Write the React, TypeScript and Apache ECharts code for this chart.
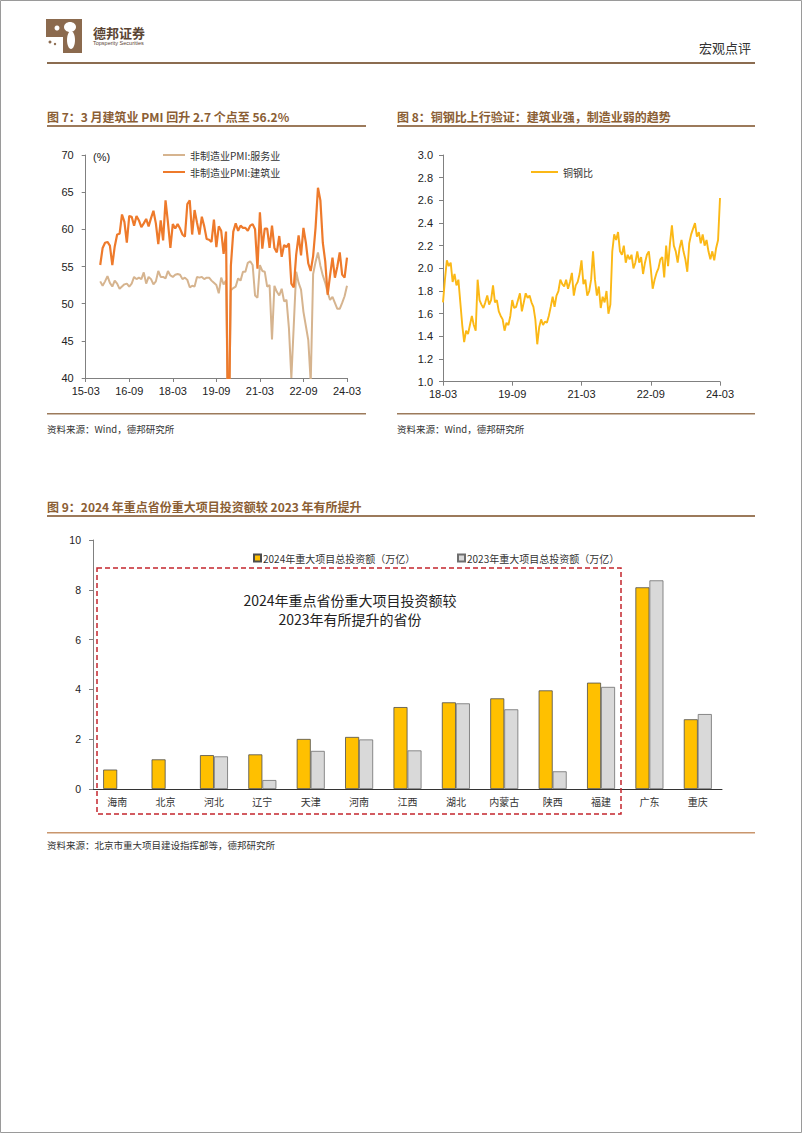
import React, { useEffect, useRef } from "react";
import * as echarts from "echarts";

// ---------- Figure 7: non-manufacturing PMI (monthly) ----------
const PMI_AXIS_START_YEAR = 2015;
const PMI_AXIS_START_MONTH = 3;
const PMI_AXIS_LENGTH = 109; // 2015-03 .. 2024-03
const PMI_DATA_START_INDEX = 6; // data start 2015-09
const PMI_LABEL_INTERVAL = 17; // label every 18 months

const SERVICES_PMI = [
  53.0, 52.4, 53.0, 53.7,
  52.8, 52.3, 53.1, 52.7, 52.0, 52.3, 52.6, 52.7, 52.3, 52.7, 53.6, 53.3,
  53.5, 53.3, 54.2, 52.7, 53.6, 53.3, 52.6, 53.0, 54.4, 53.6, 53.6, 53.4,
  54.4, 53.8, 53.6, 53.9, 54.0, 53.9, 53.3, 53.5, 53.2, 52.2, 52.4, 52.3,
  53.6, 53.5, 53.6, 53.3, 53.5, 53.5, 53.1, 52.8, 52.5, 51.4, 53.5, 52.6,
  53.1, 30.1, 51.8, 52.1, 52.3, 53.4, 53.1, 54.3, 54.3, 55.5, 55.7, 55.2,
  51.1, 50.8, 55.2, 54.4, 54.3, 52.3, 52.5, 45.2, 52.4, 51.6, 51.1, 52.0,
  50.3, 50.5, 46.7, 40.0, 47.1, 54.3, 52.8, 51.9, 48.9, 47.0, 45.1, 39.4,
  54.0, 55.6, 56.9, 55.1, 53.8, 52.8, 51.5, 50.5, 50.9, 50.1, 49.3, 49.3,
  50.1, 51.0, 52.4,
];

const CONSTRUCTION_PMI = [
  55.2, 57.5, 58.2, 58.3,
  57.8, 55.2, 57.7, 59.3, 59.4, 62.0, 61.0, 58.2, 61.8, 61.7, 60.5, 61.8,
  61.2, 60.3, 60.8, 61.4, 60.4, 61.5, 62.5, 60.8, 58.0, 61.2, 58.5, 63.9,
  60.9, 57.5, 60.7, 60.1, 60.7, 60.1, 59.3, 59.0, 63.4, 63.9, 59.3, 62.6,
  60.9, 59.3, 61.7, 60.4, 58.7, 58.6, 58.3, 61.3, 57.6, 60.4, 59.8, 56.7,
  59.7, 26.6, 55.1, 59.7, 60.8, 59.8, 60.5, 60.2, 60.2, 59.8, 60.5, 60.7,
  60.0, 54.7, 62.3, 57.4, 60.1, 60.1, 57.5, 60.5, 57.5, 56.9, 59.1, 56.3,
  57.9, 57.6, 58.1, 52.7, 52.2, 56.6, 59.2, 56.5, 60.2, 58.2, 55.4, 54.4,
  56.4, 60.2, 65.6, 63.9, 58.2, 55.7, 51.2, 53.8, 56.2, 53.5, 55.0, 56.9,
  53.9, 53.5, 56.2,
];

// ---------- Figure 8: copper / steel ratio ----------
const COPPER_X_LABELS = ["18-03", "19-09", "21-03", "22-09", "24-03"];
const COPPER_SAMPLE_MONTHS = 0.5; // one reading every half month from 2018-03
const COPPER_STEEL_RATIO = [
  1.70, 1.90, 2.07, 2.02, 2.05, 1.88, 1.95, 1.85, 1.90, 1.70,
  1.50, 1.35, 1.45, 1.42, 1.50, 1.58, 1.50, 1.45, 1.90, 1.72,
  1.68, 1.65, 1.70, 1.76, 1.68, 1.72, 1.85, 1.70, 1.72, 1.62,
  1.58, 1.55, 1.45, 1.52, 1.50, 1.58, 1.72, 1.65, 1.66, 1.72,
  1.78, 1.62, 1.70, 1.78, 1.74, 1.76, 1.70, 1.66, 1.55, 1.33,
  1.48, 1.55, 1.50, 1.53, 1.52, 1.58, 1.66, 1.75, 1.66, 1.76,
  1.80, 1.90, 1.86, 1.84, 1.90, 1.82, 1.88, 1.96, 1.76, 1.85,
  1.88, 1.95, 2.07, 1.86, 1.90, 1.76, 1.80, 1.90, 2.15, 1.90,
  1.76, 1.84, 1.65, 1.75, 1.70, 1.80, 1.60, 1.68, 2.15, 2.30,
  2.25, 2.32, 2.15, 2.12, 2.20, 2.05, 2.12, 2.08, 2.12, 2.00,
  2.05, 2.15, 2.05, 2.10, 1.95, 2.05, 2.12, 2.15, 2.00, 1.82,
  1.90, 1.96, 2.00, 2.08, 2.10, 1.92, 2.20, 2.02, 2.22, 2.38,
  2.20, 2.15, 2.05, 2.18, 2.25, 2.15, 2.08, 1.97, 2.22, 2.30,
  2.35, 2.40, 2.28, 2.32, 2.22, 2.30, 2.20, 2.25, 2.15, 2.08,
  2.15, 2.07, 2.18, 2.25, 2.62,
];

// ---------- Figure 9: provincial major project investment ----------
const PROVINCES = ["海南", "北京", "河北", "辽宁", "天津", "河南", "江西", "湖北", "内蒙古", "陕西", "福建", "广东", "重庆"];
const INVEST_2024 = [0.78, 1.19, 1.36, 1.39, 2.01, 2.09, 3.29, 3.48, 3.64, 3.96, 4.27, 8.10, 2.80];
const INVEST_2023 = [null, null, 1.31, 0.36, 1.53, 1.99, 1.55, 3.44, 3.20, 0.71, 4.10, 8.38, 3.01];

const CJK = '"Noto Sans CJK SC", "Noto Sans", sans-serif';
const NUM = '"Liberation Sans", Arial, sans-serif';
const BROWN = "#8B5E34";
const LINE_BROWN = "#9C7A5B";

function buildOption() {
  const pmiMonths = Array.from({ length: PMI_AXIS_LENGTH }, (_, i) => {
    const t = PMI_AXIS_START_YEAR * 12 + PMI_AXIS_START_MONTH - 1 + i;
    const y = Math.floor(t / 12);
    const m = (t % 12) + 1;
    return `${String(y).slice(2)}-${String(m).padStart(2, "0")}`;
  });
  const align = (arr: number[]) =>
    pmiMonths.map((_, i) => (i >= PMI_DATA_START_INDEX ? arr[i - PMI_DATA_START_INDEX] ?? null : null));
  const copperData = COPPER_STEEL_RATIO.map((v, i) => [i * COPPER_SAMPLE_MONTHS, v]);

  const axisGray = "#808080";
  const labelStyle = { fontFamily: NUM, fontSize: 11, color: "#222" };

  const text = (t: string, x: number, y: number, extra: any = {}) => ({
    type: "text",
    x,
    y,
    silent: true,
    style: {
      text: t,
      fontFamily: CJK,
      fontSize: 10,
      fill: "#333",
      verticalAlign: "middle",
      align: "left",
      ...extra,
    },
  });
  const bar = (x: number, y: number, w: number, h: number, fill: string) => ({
    type: "rect",
    silent: true,
    shape: { x, y, width: w, height: h },
    style: { fill },
  });

  return {
    animation: false,
    backgroundColor: "#fff",
    grid: [
      { left: 85.7, right: 455, top: 155, bottom: 755 },
      { left: 443, right: 82, top: 155, bottom: 751.3 },
      { left: 93, right: 80, top: 540, bottom: 344 },
    ],
    legend: [
      {
        data: ["非制造业PMI:服务业", "非制造业PMI:建筑业"],
        orient: "vertical",
        left: 158,
        top: 145,
        icon: "rect",
        itemWidth: 22,
        itemHeight: 2,
        itemGap: 7,
        textStyle: { fontFamily: CJK, fontSize: 10, color: "#333" },
      },
      {
        data: ["铜钢比"],
        left: 526,
        top: 162,
        icon: "rect",
        itemWidth: 27,
        itemHeight: 2,
        textStyle: { fontFamily: CJK, fontSize: 10, color: "#333" },
      },
      {
        data: ["2024年重大项目总投资额（万亿）"],
        left: 248,
        top: 548,
        icon: "rect",
        itemWidth: 7,
        itemHeight: 7,
        itemGap: 2,
        textStyle: { fontFamily: CJK, fontSize: 10, color: "#333", padding: [0, 0, 0, -3] },
      },
      {
        data: ["2023年重大项目总投资额（万亿）"],
        left: 452,
        top: 548,
        icon: "rect",
        itemWidth: 7,
        itemHeight: 7,
        textStyle: { fontFamily: CJK, fontSize: 10, color: "#333", padding: [0, 0, 0, -3] },
      },
    ],
    xAxis: [
      {
        type: "category",
        gridIndex: 0,
        data: pmiMonths,
        boundaryGap: false,
        axisLine: { lineStyle: { color: axisGray, width: 1 } },
        axisTick: { interval: PMI_LABEL_INTERVAL, length: 4, lineStyle: { color: axisGray } },
        axisLabel: { ...labelStyle, interval: PMI_LABEL_INTERVAL, margin: 7 },
        splitLine: { show: false },
      },
      {
        type: "value",
        gridIndex: 1,
        min: 0,
        max: 72,
        interval: 18,
        axisLine: { show: true, lineStyle: { color: axisGray, width: 1 } },
        axisTick: { show: true, length: 4, lineStyle: { color: axisGray } },
        axisLabel: {
          ...labelStyle,
          margin: 7,
          formatter: (v: number) => COPPER_X_LABELS[Math.round(v / 18)] ?? "",
        },
        splitLine: { show: false },
      },
      {
        type: "category",
        gridIndex: 2,
        data: PROVINCES,
        axisLine: { lineStyle: { color: "#333", width: 1 } },
        axisTick: { length: 4, lineStyle: { color: "#333" } },
        axisLabel: { fontFamily: CJK, fontSize: 10, color: "#333", margin: 7 },
      },
    ],
    yAxis: [
      {
        type: "value",
        gridIndex: 0,
        min: 40,
        max: 70,
        interval: 5,
        axisLine: { show: true, lineStyle: { color: axisGray, width: 1 } },
        axisTick: { show: true, length: 4, lineStyle: { color: axisGray } },
        axisLabel: { ...labelStyle, margin: 12 },
        splitLine: { show: false },
      },
      {
        type: "value",
        gridIndex: 1,
        min: 1,
        max: 3,
        interval: 0.2,
        axisLine: { show: true, lineStyle: { color: axisGray, width: 1 } },
        axisTick: { show: true, length: 4, lineStyle: { color: axisGray } },
        axisLabel: { ...labelStyle, margin: 10, formatter: (v: number) => v.toFixed(1) },
        splitLine: { show: false },
      },
      {
        type: "value",
        gridIndex: 2,
        min: 0,
        max: 10,
        interval: 2,
        axisLine: { show: true, lineStyle: { color: axisGray, width: 1 } },
        axisTick: { show: true, length: 4, lineStyle: { color: axisGray } },
        axisLabel: { ...labelStyle, fontSize: 10.5, margin: 12 },
        splitLine: { show: false },
      },
    ],
    series: [
      {
        name: "非制造业PMI:服务业",
        type: "line",
        xAxisIndex: 0,
        yAxisIndex: 0,
        data: align(SERVICES_PMI),
        symbol: "none",
        connectNulls: false,
        lineStyle: { color: "#D6B48F", width: 2 },
        itemStyle: { color: "#D6B48F" },
      },
      {
        name: "非制造业PMI:建筑业",
        type: "line",
        xAxisIndex: 0,
        yAxisIndex: 0,
        data: align(CONSTRUCTION_PMI),
        symbol: "none",
        lineStyle: { color: "#EE7A2B", width: 2.2 },
        itemStyle: { color: "#EE7A2B" },
      },
      {
        name: "铜钢比",
        type: "line",
        xAxisIndex: 1,
        yAxisIndex: 1,
        data: copperData,
        symbol: "none",
        lineStyle: { color: "#FBB816", width: 1.9 },
        itemStyle: { color: "#FBB816" },
      },
      {
        name: "2024年重大项目总投资额（万亿）",
        type: "bar",
        xAxisIndex: 2,
        yAxisIndex: 2,
        data: INVEST_2024,
        barWidth: 14,
        barGap: "0%",
        itemStyle: { color: "#FFC000", borderColor: "#4d4d4d", borderWidth: 0.8 },
      },
      {
        name: "2023年重大项目总投资额（万亿）",
        type: "bar",
        xAxisIndex: 2,
        yAxisIndex: 2,
        data: INVEST_2023,
        barWidth: 14,
        barGap: "0%",
        itemStyle: { color: "#D9D9D9", borderColor: "#6e6e6e", borderWidth: 0.8 },
      },
    ],
    graphic: [
      // page frame
      {
        type: "rect",
        silent: true,
        shape: { x: 0.5, y: 0.5, width: 801, height: 1132 },
        style: { fill: "none", stroke: "#9a9a9a", lineWidth: 1 },
      },
      // logo
      {
        type: "polygon",
        silent: true,
        shape: { points: [[46, 19], [82, 19], [82, 53], [63, 53], [63, 37], [46, 37]] },
        style: { fill: "#8B6A4E" },
      },
      { type: "ellipse", silent: true, shape: { cx: 70, cy: 27, rx: 6, ry: 5 }, style: { fill: "#fff" } },
      { type: "ellipse", silent: true, shape: { cx: 71, cy: 40, rx: 4, ry: 9 }, style: { fill: "#fff" } },
      { type: "circle", silent: true, shape: { cx: 57, cy: 28, r: 2.5 }, style: { fill: "#fff" } },
      { type: "circle", silent: true, shape: { cx: 50, cy: 42, r: 1.5 }, style: { fill: "#8B6A4E" } },
      { type: "circle", silent: true, shape: { cx: 55, cy: 44, r: 1.2 }, style: { fill: "#8B6A4E" } },
      text("德邦证券", 93, 32, { fontSize: 13, fontWeight: "bold", fill: "#5a4433" }),
      text("Topsperity Securities", 93, 43, { fontSize: 5.5, fontFamily: NUM, fill: "#5a4433" }),
      text("宏观点评", 751, 47, { fontSize: 13, fill: "#333", align: "right" }),
      bar(47, 62, 708, 2, "#8B6C50"),
      // figure 7 & 8 titles
      text("图 7：3 月建筑业 PMI 回升 2.7 个点至 56.2%", 47, 116, { fontSize: 12, fontWeight: "bold", fill: BROWN }),
      text("图 8：铜钢比上行验证：建筑业强，制造业弱的趋势", 397, 116, { fontSize: 12, fontWeight: "bold", fill: BROWN }),
      bar(47, 125, 319, 2, LINE_BROWN),
      bar(397, 125, 358, 2, LINE_BROWN),
      text("(%)", 93, 157, { fontFamily: NUM, fontSize: 11, fill: "#222" }),
      bar(47, 413, 319, 1.5, LINE_BROWN),
      bar(397, 413, 358, 1.5, LINE_BROWN),
      text("资料来源：Wind，德邦研究所", 47, 429, { fontSize: 9.5, fill: "#333" }),
      text("资料来源：Wind，德邦研究所", 397, 429, { fontSize: 9.5, fill: "#333" }),
      // figure 9
      text("图 9：2024 年重点省份重大项目投资额较 2023 年有所提升", 47, 506, { fontSize: 12, fontWeight: "bold", fill: BROWN }),
      bar(47, 515, 708, 2, LINE_BROWN),
      {
        type: "rect",
        silent: true,
        shape: { x: 97, y: 568, width: 524, height: 246 },
        style: { fill: "none", stroke: "#C4262E", lineWidth: 1.5, lineDash: [5, 3] },
        z: 10,
      },
      text("2024年重点省份重大项目投资额较", 350, 600, { fontSize: 14, fill: "#222", align: "center" }),
      text("2023年有所提升的省份", 350, 619, { fontSize: 14, fill: "#222", align: "center" }),
      bar(47, 832, 708, 1.5, "#C9966D"),
      text("资料来源：北京市重大项目建设指挥部等，德邦研究所", 47, 845, { fontSize: 9.5, fill: "#333" }),
    ],
  };
}

export default function App() {
  const ref = useRef<HTMLDivElement>(null);
  useEffect(() => {
    if (!ref.current) return;
    const chart = echarts.init(ref.current, null, { renderer: "svg" });
    chart.setOption(buildOption() as any);
    return () => chart.dispose();
  }, []);
  return (
    <div
      ref={ref}
      style={{ position: "absolute", left: 0, top: 0, width: 802, height: 1133, background: "#fff" }}
    />
  );
}
